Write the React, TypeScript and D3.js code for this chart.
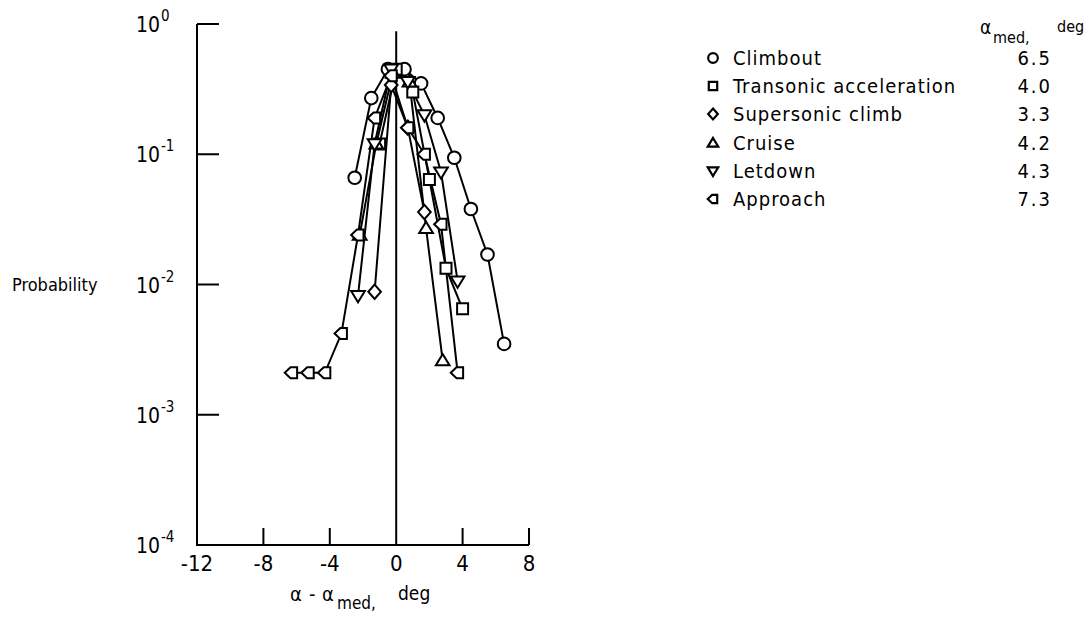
import React from "react";
import * as d3 from "d3";

const xTicks = [-12, -8, -4, 0, 4, 8];
const yTicks = [1, 0.1, 0.01, 0.001, 0.0001];
const yExponents = ["0", "-1", "-2", "-3", "-4"];

const climboutX = [-2.5, -1.5, -0.5, 0.5, 1.5, 2.5, 3.5, 4.5, 5.5, 6.5];
const climboutP = [0.066, 0.27, 0.45, 0.45, 0.35, 0.19, 0.094, 0.038, 0.017, 0.0035];

const transonicX = [-1, 0, 1, 2, 3, 4];
const transonicP = [0.12, 0.45, 0.3, 0.064, 0.0133, 0.0065];

const supersonicX = [-1.3, -0.3, 0.7, 1.7];
const supersonicP = [0.0088, 0.34, 0.16, 0.036];

const cruiseX = [-2.2, -1.2, -0.2, 0.8, 1.8, 2.8];
const cruiseP = [0.024, 0.12, 0.42, 0.36, 0.027, 0.0026];

const letdownX = [-2.3, -1.3, -0.3, 0.7, 1.7, 2.7, 3.7];
const letdownP = [0.0082, 0.12, 0.45, 0.36, 0.2, 0.073, 0.0106];

const approachX = [-6.3, -5.3, -4.3, -3.3, -2.3, -1.3, -0.3, 0.7, 1.7, 2.7, 3.7];
const approachP = [0.0021, 0.0021, 0.0021, 0.0042, 0.024, 0.19, 0.4, 0.16, 0.1, 0.029, 0.0021];

const seriesNames = ["Climbout", "Transonic acceleration", "Supersonic climb", "Cruise", "Letdown", "Approach"];
const seriesMedians = ["6.5", "4.0", "3.3", "4.2", "4.3", "7.3"];
const seriesShapes = ["circle", "square", "diamond", "triangleUp", "triangleDown", "left"];

const FONT = "'DejaVu Sans Condensed', 'DejaVu Sans', sans-serif";

function markerPath(shape: string, s: number): string {
  switch (shape) {
    case "square":
      return `M${-s},${-s}L${s},${-s}L${s},${s}L${-s},${s}Z`;
    case "diamond":
      return `M0,${-s * 1.3}L${s * 1.15},0L0,${s * 1.3}L${-s * 1.15},0Z`;
    case "triangleUp":
      return `M0,${-s * 1.2}L${s * 1.25},${s * 0.85}L${-s * 1.25},${s * 0.85}Z`;
    case "triangleDown":
      return `M0,${s * 1.2}L${s * 1.25},${-s * 0.85}L${-s * 1.25},${-s * 0.85}Z`;
    case "left":
      return `M${-s * 1.25},0L${-s * 0.2},${-s}L${s},${-s}L${s},${s}L${-s * 0.2},${s}Z`;
    default:
      return "";
  }
}

function Marker({ shape, x, y, s, sw }: { shape: string; x: number; y: number; s: number; sw: number }) {
  if (shape === "circle") {
    return <circle cx={x} cy={y} r={s * 1.15} fill="#fff" stroke="#000" strokeWidth={sw} />;
  }
  return <path d={markerPath(shape, s)} transform={`translate(${x},${y})`} fill="#fff" stroke="#000" strokeWidth={sw} strokeLinejoin="miter" />;
}

export default function App() {
  const xScale = d3.scaleLinear().domain([-12, 8]).range([197, 529]);
  const yScale = d3.scaleLog().domain([1e-4, 1]).range([545, 24]);

  const series = [
    { xs: climboutX, ps: climboutP },
    { xs: transonicX, ps: transonicP },
    { xs: supersonicX, ps: supersonicP },
    { xs: cruiseX, ps: cruiseP },
    { xs: letdownX, ps: letdownP },
    { xs: approachX, ps: approachP },
  ];

  const line = d3
    .line<[number, number]>()
    .x((d) => xScale(d[0]))
    .y((d) => yScale(d[1]));

  const x0 = xScale(-12);
  const yBottom = yScale(1e-4);
  const legendRows = [65, 93, 121, 150, 178, 206];
  const legendMarkerX = 713;
  const legendTextX = 733;
  const legendNumX = 1052;

  return (
    <svg width={1090} height={620} style={{ position: "absolute", left: 0, top: 0, background: "#fff", fontStretch: "condensed" }} fontFamily={FONT}>
      <rect x={0} y={0} width={1090} height={620} fill="#fff" />
      {/* axes */}
      <line x1={x0} y1={yScale(1)} x2={x0} y2={yBottom} stroke="#000" strokeWidth={2} />
      <line x1={x0 - 1} y1={yBottom} x2={xScale(8)} y2={yBottom} stroke="#000" strokeWidth={2} />
      {/* zero line */}
      <line x1={xScale(0)} y1={yBottom} x2={xScale(0)} y2={yScale(0.88)} stroke="#000" strokeWidth={2} />
      {/* y ticks */}
      {yTicks.map((t, i) => (
        <g key={"yt" + i}>
          {i < 4 && <line x1={x0} x2={x0 + 22} y1={yScale(t)} y2={yScale(t)} stroke="#000" strokeWidth={2} />}
          <text x={160} y={yScale(t) + 8} fontSize={21} textAnchor="end" fill="#000">10</text>
          <text x={161} y={yScale(t) - 3} fontSize={15} fill="#000">{yExponents[i]}</text>
        </g>
      ))}
      {/* x ticks */}
      {xTicks.map((t, i) => (
        <g key={"xt" + i}>
          {i > 0 && t !== 0 && <line x1={xScale(t)} x2={xScale(t)} y1={yBottom} y2={yBottom - 17} stroke="#000" strokeWidth={2} />}
          <text x={xScale(t)} y={571} fontSize={22} textAnchor="middle" fill="#000">{t}</text>
        </g>
      ))}
      {/* axis titles */}
      <text x={12} y={291} fontSize={18} fill="#000">Probability</text>
      <text y={601} fontSize={20} fill="#000">
        <tspan x={290}>α</tspan>
        <tspan x={309}>-</tspan>
        <tspan x={322}>α</tspan>
        <tspan x={337} y={609} fontSize={17}>med,</tspan>
        <tspan x={398} y={600} fontSize={19}>deg</tspan>
      </text>
      {/* series lines */}
      {series.map((s, i) => (
        <path
          key={"l" + i}
          d={line(s.xs.map((x, j) => [x, s.ps[j]] as [number, number])) || ""}
          fill="none"
          stroke="#000"
          strokeWidth={2}
        />
      ))}
      {/* markers */}
      {series.map((s, i) => (
        <g key={"m" + i}>
          {s.xs.map((x, j) => (
            <Marker key={j} shape={seriesShapes[i]} x={xScale(x)} y={yScale(s.ps[j])} s={5.5} sw={2} />
          ))}
        </g>
      ))}
      {/* legend */}
      <text y={34} fontSize={19} fill="#000">
        <tspan x={980}>α</tspan>
        <tspan x={993} y={43} fontSize={16}>med,</tspan>
        <tspan x={1057} y={32} fontSize={16}>deg</tspan>
      </text>
      {seriesNames.map((name, i) => (
        <g key={"lg" + i}>
          <Marker shape={seriesShapes[i]} x={legendMarkerX} y={legendRows[i] - 7} s={4.2} sw={2.2} />
          <text x={legendTextX} y={legendRows[i]} fontSize={20} letterSpacing={1} fill="#000">{name}</text>
          <text x={legendNumX} y={legendRows[i]} fontSize={20} letterSpacing={2} textAnchor="end" fill="#000">{seriesMedians[i]}</text>
        </g>
      ))}
    </svg>
  );
}
